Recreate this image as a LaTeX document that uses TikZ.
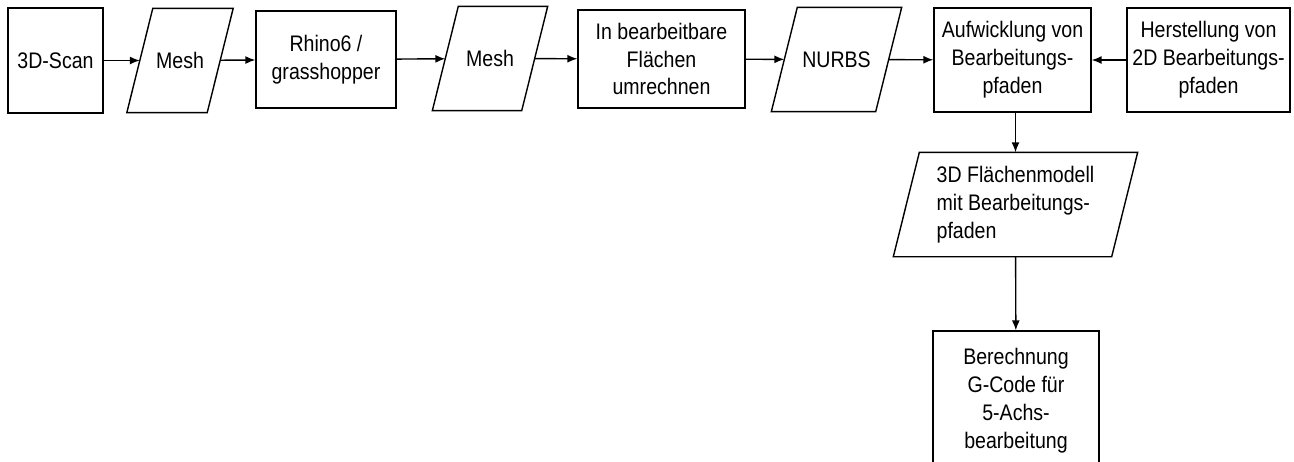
\documentclass[tikz,border=0pt]{standalone}
\usepackage{fontspec}
\setmainfont{Liberation Sans}[FakeStretch=0.87]
\usetikzlibrary{arrows.meta, positioning, calc}

% slanted outline round a data node
\newcommand{\datashape}[1]{%
  \draw ([xshift=0.26cm]#1.north west) -- ([xshift=0.26cm]#1.north east)
    -- ([xshift=-0.26cm]#1.south east) -- ([xshift=-0.26cm]#1.south west) -- cycle;}

\begin{document}
\begin{tikzpicture}[x=0.02cm, y=-0.02cm, >={Latex[length=2mm, width=1.6mm]}, line width=0.8pt,
  font=\fontsize{12.8}{15.9}\selectfont,
  procbox/.style={draw, rectangle, align=center, inner sep=2pt},
  databox/.style={rectangle, align=center, inner sep=2pt, minimum height=2.06cm},
  flow/.style={->}]

% Frame
\useasboundingbox (0,0) rectangle (1294,461);
\clip (0,0) rectangle (1294,461);

% Top row
\node[procbox, minimum width=1.9cm, minimum height=2.1cm] (scan) at (55.5,60.5) {3D-Scan};
\node[databox, minimum width=1.58cm] (mesha) at (180,60.5) {Mesh};
\node[procbox, minimum width=2.8cm, minimum height=1.94cm] (rhino) at (326,59.5) {Rhino6 /\\grasshopper};
\node[databox, minimum width=1.76cm] (meshb) at (490,58.5) {Mesh};
\node[procbox, minimum width=3.34cm, minimum height=1.96cm] (umrech) at (661.5,59) {In bearbeitbare\\Flächen\\umrechnen};
\node[databox, minimum width=2.06cm] (nurbs) at (836.5,59.5) {NURBS};
\node[procbox, minimum width=3.14cm, minimum height=2.08cm] (aufw) at (1012.5,60) {Aufwicklung von\\Bearbeitungs-\\pfaden};
\node[procbox, minimum width=3.26cm, minimum height=2.08cm] (herst) at (1208.5,60) {Herstellung von\\2D Bearbeitungs-\\pfaden};

% Down the right side
\node[databox, minimum width=4.34cm, align=left] (modell) at (1015.5,204.5)
  {3D Flächenmodell\\mit Bearbeitungs-\\pfaden};
\node[procbox, minimum width=3.32cm, minimum height=2.8cm] (gcode) at (1016,401) {Berechnung\\G-Code für\\5-Achs-\\bearbeitung};

% Parallelogram outlines
\datashape{mesha}
\datashape{meshb}
\datashape{nurbs}
\datashape{modell}

% Arrows
\draw[flow] (scan) -- (mesha);
\draw[flow] (mesha) -- (rhino);
\draw[flow] (rhino) -- (meshb);
\draw[flow] (meshb) -- (umrech);
\draw[flow] (umrech) -- (nurbs);
\draw[flow] (nurbs) -- (aufw);
\draw[flow] (herst) -- (aufw);
\draw[flow] (aufw.south -| modell.north) -- (modell.north);
\draw[flow] (modell) -- (gcode);

\end{tikzpicture}
\end{document}
